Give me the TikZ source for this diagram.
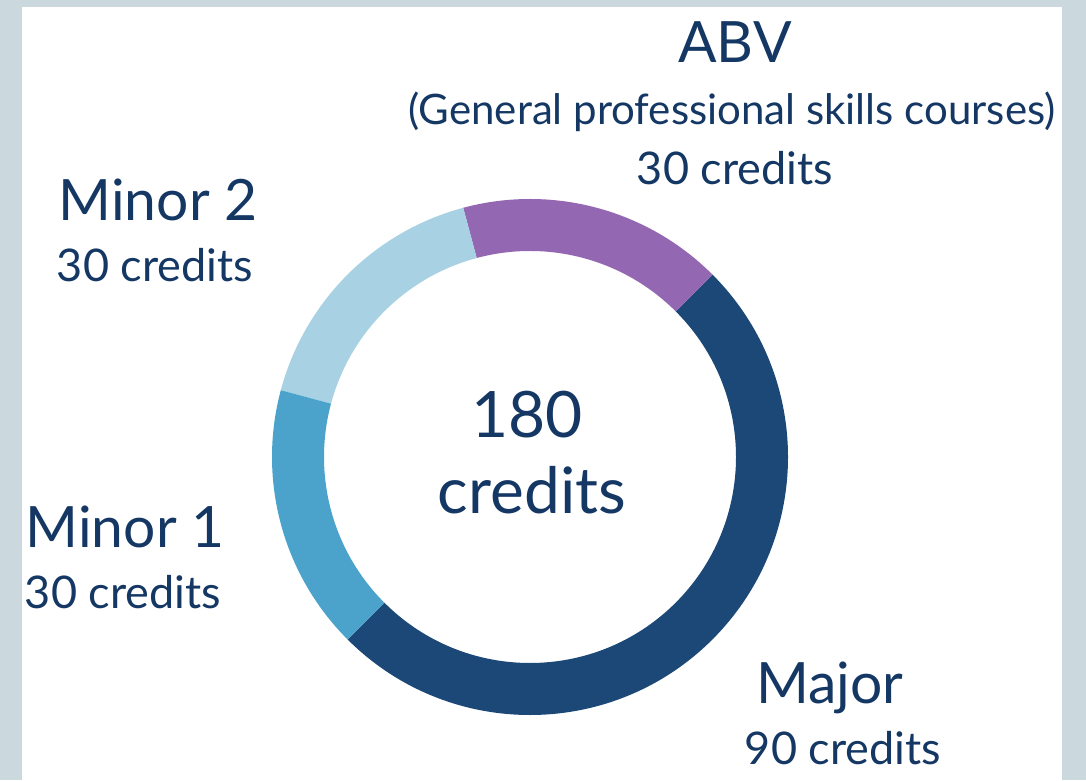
\documentclass[tikz,border=0pt]{standalone}
\usepackage{fontspec}
\setmainfont{Lato}
\definecolor{bggray}{HTML}{CBD8DE}
\definecolor{abvpurple}{HTML}{9467B2}
\definecolor{minortwo}{HTML}{A8D2E4}
\definecolor{minorone}{HTML}{4BA3CC}
\definecolor{majornavy}{HTML}{1C4878}
\definecolor{textnavy}{HTML}{143764}
\tikzset{
  lbl/.style={text=textnavy, inner sep=0pt, anchor=center},
  big/.style={lbl, font=\fontsize{57}{62}\selectfont},
  mid/.style={lbl, font=\fontsize{45}{50}\selectfont},
  small/.style={lbl, font=\fontsize{42}{46}\selectfont},
  center/.style={lbl, font=\fontsize{64}{68}\selectfont},
}
\newcommand{\ringseg}[3]{%
  \fill[#1] ([shift={(#2:258)}]ctr) arc[start angle=#2, end angle=#3, radius=258]
    -- ([shift={(#3:206)}]ctr) arc[start angle=#3, end angle=#2, radius=206] -- cycle;}
\begin{document}
\begin{tikzpicture}[x=1pt,y=1pt]
\useasboundingbox (0,0) rectangle (1086,780);
\fill[bggray] (0,0) rectangle (1086,780);
\fill[white] (22,0) rectangle (1062,773);
\coordinate (ctr) at (530,323);
\ringseg{majornavy}{-135}{45}
\ringseg{abvpurple}{45}{105}
\ringseg{minortwo}{105}{165}
\ringseg{minorone}{165}{225}
\node[center] (total) at (527,365) {180};
\node[center] (totalc) at (532,290) {credits};
\node[big] (abv) at (735,738) {ABV};
\node[small] (abvdesc) at (732,668) {(General professional skills courses)};
\node[mid] (abvcr) at (735,612) {30 credits};
\node[big] (m2) at (158,580) {Minor 2};
\node[mid] (m2cr) at (155,515) {30 credits};
\node[big] (m1) at (125,253) {Minor 1};
\node[mid] (m1cr) at (123,188) {30 credits};
\node[big] (maj) at (830,92) {Major};
\node[mid] (majcr) at (843,32) {90 credits};
\end{tikzpicture}
\end{document}
